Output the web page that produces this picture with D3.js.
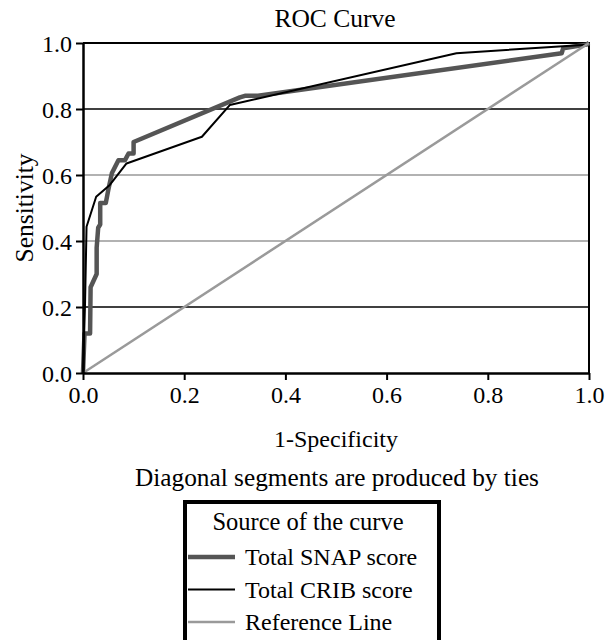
<!DOCTYPE html>
<html>
<head>
<meta charset="utf-8">
<script src="https://cdn.jsdelivr.net/npm/d3@7"></script>
<style>
    body { margin: 0; background: #fff; }
</style>
</head>
<body>
<div id="chart"></div>
<script>
// ROC points: 1-specificity / sensitivity
const snapFpr = [0, 0.003, 0.014, 0.015, 0.027, 0.027, 0.030, 0.034, 0.034, 0.045, 0.050, 0.057, 0.070, 0.083, 0.090, 0.100, 0.100, 0.310, 0.320, 0.346, 0.946, 0.949, 0.995, 1];
const snapTpr = [0, 0.120, 0.120, 0.260, 0.300, 0.380, 0.440, 0.450, 0.515, 0.515, 0.555, 0.605, 0.645, 0.645, 0.665, 0.665, 0.700, 0.835, 0.840, 0.840, 0.969, 0.984, 0.995, 1];

const cribFpr = [0, 0.004, 0.007, 0.026, 0.053, 0.086, 0.235, 0.290, 0.738, 0.995, 1];
const cribTpr = [0, 0.210, 0.443, 0.534, 0.570, 0.635, 0.716, 0.812, 0.969, 0.995, 1];

const refFpr = [0, 1];
const refTpr = [0, 1];

const xTicks = [0, 0.2, 0.4, 0.6, 0.8, 1.0];
const yTicks = [0, 0.2, 0.4, 0.6, 0.8, 1.0];
const legendLabels = ["Total SNAP score", "Total CRIB score", "Reference Line"];
const legendColours = ["#555555", "#000000", "#9a9a9a"];
const legendWidths = [4.5, 2, 2.5];

const serif = "'Liberation Serif', 'DejaVu Serif', serif";

// margin
const margin = { top: 43, right: 26, bottom: 267, left: 83 };
const width = 615 - margin.left - margin.right;
const height = 640 - margin.top - margin.bottom;

const svg = d3.select("#chart")
    .append("svg")
    .attr("width", 615)
    .attr("height", 640);

const g = svg.append("g")
    .attr("transform", "translate(" + margin.left + "," + margin.top + ")");

const x = d3.scaleLinear().domain([0, 1]).range([0, width]);
const y = d3.scaleLinear().domain([0, 1]).range([height, 0]);

// gridlines - 0.2 / 0.8 black, 0.4 / 0.6 grey as in the original
g.selectAll(".grid")
    .data(yTicks.filter(d => d > 0 && d < 1))
    .enter()
    .append("line")
    .attr("class", "grid")
    .attr("x1", 0)
    .attr("x2", width)
    .attr("y1", d => y(d))
    .attr("y2", d => y(d))
    .attr("stroke", d => (d === 0.4 || d === 0.6) ? "#999" : "#000")
    .attr("stroke-width", 1.5);

// top and right border
g.append("path")
    .attr("d", "M0," + y(1) + "H" + x(1) + "V" + y(0))
    .attr("fill", "none")
    .attr("stroke", "#000")
    .attr("stroke-width", 2);

// curves
const line = d3.line()
    .x(d => x(d[0]))
    .y(d => y(d[1]));

const series = [
    d3.zip(snapFpr, snapTpr),
    d3.zip(cribFpr, cribTpr),
    d3.zip(refFpr, refTpr)
];

g.selectAll(".curve")
    .data(series)
    .enter()
    .append("path")
    .attr("class", "curve")
    .attr("d", line)
    .attr("fill", "none")
    .attr("stroke", (d, i) => legendColours[i])
    .attr("stroke-width", (d, i) => legendWidths[i])
    .attr("stroke-linejoin", "round");

// axes
const xAxis = g.append("g")
    .attr("transform", "translate(0," + height + ")")
    .call(d3.axisBottom(x).tickValues(xTicks).tickFormat(d3.format(".1f")).tickSize(7).tickSizeOuter(0));

const yAxis = g.append("g")
    .call(d3.axisLeft(y).tickValues(yTicks).tickFormat(d3.format(".1f")).tickSize(7).tickSizeOuter(0));

[xAxis, yAxis].forEach(a => {
    a.attr("font-family", serif).attr("font-size", 24);
    a.select(".domain").attr("stroke-width", 2.5);
    a.selectAll(".tick line").attr("stroke-width", 2);
    a.selectAll(".tick text").style("font-family", serif).style("font-size", "24px").attr("fill", "#000");
});
xAxis.selectAll(".tick text").attr("dy", "0.82em");
yAxis.selectAll(".tick text").attr("dy", "0.35em").attr("x", -11);

// helper for plain labels
function label(parent, tx, ty, str, size, anchor) {
    return parent.append("text")
        .attr("x", tx)
        .attr("y", ty)
        .attr("text-anchor", anchor || "middle")
        .style("font-family", serif)
        .style("font-size", size + "px")
        .text(str);
}

// titles
label(svg, 335, 27, "ROC Curve", 25.5);
label(svg, margin.left + width / 2, 447, "1-Specificity", 24);
label(svg, 0, 0, "Sensitivity", 25.5)
    .attr("transform", "translate(33," + (margin.top + height / 2) + ") rotate(-90)");
label(svg, margin.left + width / 2 + 1, 486, "Diagonal segments are produced by ties", 25.3);

// legend
const legend = svg.append("g")
    .attr("transform", "translate(185,502)");

legend.append("rect")
    .attr("width", 254)
    .attr("height", 160)
    .attr("fill", "#fff")
    .attr("stroke", "#000")
    .attr("stroke-width", 4);

label(legend, 123, 28, "Source of the curve", 24.5);

const rows = legend.selectAll(".row")
    .data(legendLabels)
    .enter()
    .append("g")
    .attr("class", "row")
    .attr("transform", (d, i) => "translate(0," + (55 + i * 32.5) + ")");

rows.append("line")
    .attr("x1", 3)
    .attr("x2", 50)
    .attr("stroke", (d, i) => legendColours[i])
    .attr("stroke-width", (d, i) => legendWidths[i]);

rows.each(function(d) {
    label(d3.select(this), 60, 0, d, 24, "start").attr("dy", "0.35em");
});
</script>
</body>
</html>
